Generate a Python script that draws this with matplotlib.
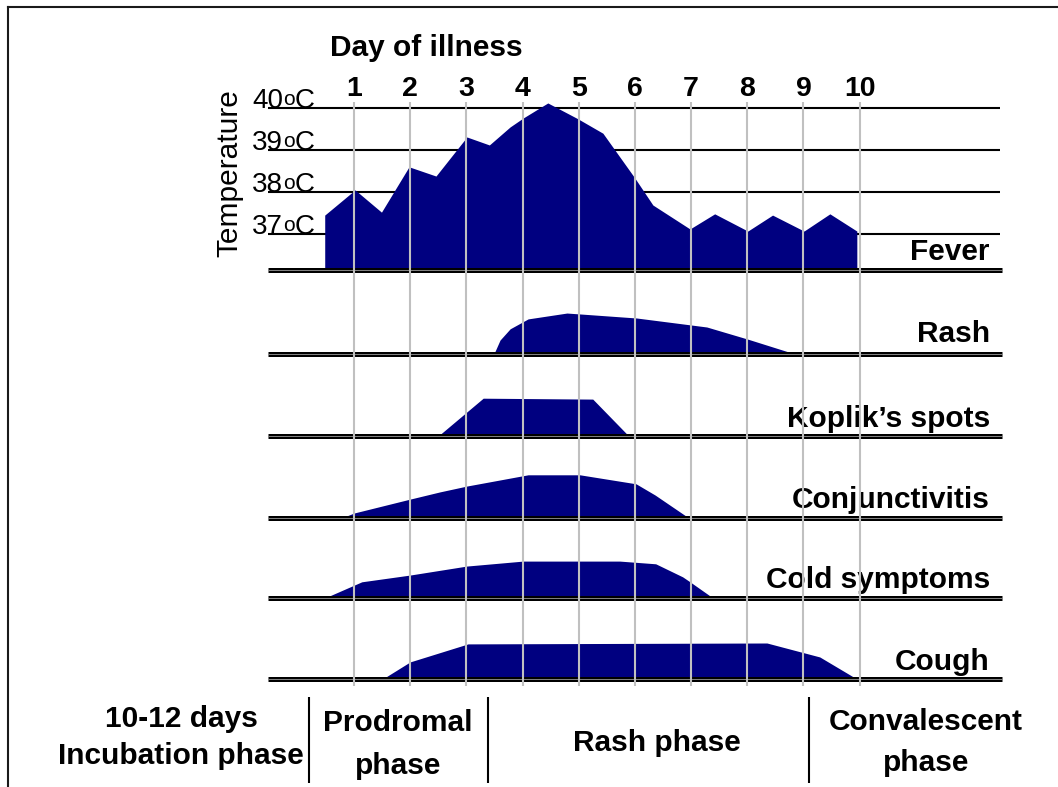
import matplotlib
matplotlib.use("Agg")
import matplotlib.pyplot as plt

plt.rcParams['font.family'] = ['Liberation Sans', 'DejaVu Sans']

# ---------------- data ----------------
days = [1, 2, 3, 4, 5, 6, 7, 8, 9, 10]
temp_levels = [37, 38, 39, 40]
temp_numbers = ["37", "38", "39", "40"]

fever_days = [0.48, 1.02, 1.49, 1.98, 2.46, 3.01, 3.41, 3.78, 4.01, 4.45, 4.99, 5.43,
              6.00, 6.32, 6.98, 7.42, 8.01, 8.45, 9.01, 9.47, 9.95]
fever_temp = [37.45, 38.05, 37.52, 38.60, 38.38, 39.31, 39.12, 39.55, 39.76, 40.12, 39.74, 39.40,
              38.33, 37.69, 37.12, 37.48, 37.07, 37.45, 37.07, 37.48, 37.07]

rash_days = [3.49, 3.60, 3.78, 4.10, 4.79, 5.02, 6.03, 7.28, 8.01, 8.85]
rash_vals = [0.00, 0.31, 0.56, 0.78, 0.91, 0.89, 0.80, 0.60, 0.33, 0.00]

koplik_days = [2.50, 3.30, 5.25, 5.89]
koplik_vals = [0.00, 0.84, 0.82, 0.00]

conj_days = [0.78, 1.00, 2.00, 2.53, 3.01, 4.10, 5.02, 6.02, 6.36, 6.96]
conj_vals = [0.00, 0.11, 0.42, 0.58, 0.71, 0.96, 0.96, 0.76, 0.51, 0.00]

cold_days = [0.48, 1.14, 2.00, 3.01, 4.01, 5.73, 6.37, 6.85, 6.98, 7.39]
cold_vals = [0.00, 0.36, 0.51, 0.71, 0.82, 0.82, 0.76, 0.47, 0.36, 0.00]

cough_days = [1.51, 2.00, 3.03, 8.35, 9.29, 9.95]
cough_vals = [0.00, 0.38, 0.78, 0.80, 0.49, 0.00]

symptom_names = ["Rash", "Koplik\u2019s spots", "Conjunctivitis", "Cold symptoms", "Cough"]
symptom_days = [rash_days, koplik_days, conj_days, cold_days, cough_days]
symptom_vals = [rash_vals, koplik_vals, conj_vals, cold_vals, cough_vals]

phase_bounds = [0.20, 3.38, 9.10]
phase_labels = [["10-12 days", "Incubation phase"], ["Prodromal", "phase"],
                ["Rash phase"], ["Convalescent", "phase"]]

# ---------------- layout ----------------
W, H = 1058, 787
X0, SC = 297.75, 56.19
NAVY = "#000080"
GRAY = "#c0c0c0"
BOLD_FS = 21.5


def dx(px):
    return (px - X0) / SC


XL = (dx(0), dx(W))

fig = plt.figure(figsize=(W / 100, H / 100), dpi=100)
fig.patch.set_facecolor("white")


def temp_of(py):
    return 37 + (234 - py) / 42.0


# fever panel (y in degrees C)
fb, ft = 270, 95
axf = fig.add_axes([0, 1 - fb / H, 1, (fb - ft) / H], zorder=2)
axf.set_xlim(*XL)
axf.set_ylim(temp_of(fb), temp_of(ft))
axf.axis("off")
axf.patch.set_alpha(0)
axf.hlines(temp_levels, dx(268), dx(1000), color="black", lw=1.5, zorder=1)
axf.fill_between(fever_days, fever_temp, temp_of(fb), color=NAVY, lw=0, zorder=2)

# symptom panels (relative intensity, 1 = 45 px)
baselines = [354, 436, 518, 598, 679]
for b, dd, vv in zip(baselines, symptom_days, symptom_vals):
    ax = fig.add_axes([0, 1 - b / H, 1, 50 / H], zorder=2)
    ax.set_xlim(*XL)
    ax.set_ylim(0, 50 / 45)
    ax.axis("off")
    ax.patch.set_alpha(0)
    ax.fill_between(dd, vv, 0, color=NAVY, lw=0)

# overlay (x in days, y in pixels)
axt = fig.add_axes([0, 0, 1, 1], zorder=5)
axt.set_xlim(*XL)
axt.set_ylim(H, 0)
axt.axis("off")
axt.patch.set_alpha(0)

# baselines (double lines)
for b in [270] + baselines:
    axt.plot([dx(268), dx(1002)], [b, b], color="black", lw=3.6, solid_capstyle="butt", zorder=3)
    axt.plot([dx(268), dx(1002)], [b, b], color="#9a9a9a", lw=0.6, solid_capstyle="butt", zorder=4)

# day grid lines
axt.vlines(days, 102, 686, color=GRAY, lw=1.5, zorder=6)

# day numbers
for d in days:
    axt.text(d, 96, str(d), ha="center", va="baseline", fontsize=20.5, fontweight="bold")
axt.text(dx(426), 56, "Day of illness", ha="center", va="baseline", fontsize=BOLD_FS, fontweight="bold")

# temperature labels (number, raised small "o", "C")
for t, num in zip(temp_levels, temp_numbers):
    py = 234 - (t - 37) * 42
    axt.text(dx(252), py, num, ha="left", va="baseline", fontsize=20)
    axt.text(dx(283), py - 3, "o", ha="left", va="baseline", fontsize=15)
    axt.text(dx(294.5), py, "C", ha="left", va="baseline", fontsize=20)
axt.text(dx(229), 173, "Temperature", rotation=90, ha="center", va="center", fontsize=21.5)

# row labels
row_label_y = [260, 342, 427, 508, 588, 670]
for name, y in zip(["Fever"] + symptom_names, row_label_y):
    axt.text(dx(990), y, name, ha="right", va="baseline", fontsize=BOLD_FS, fontweight="bold")

# phase dividers
axt.vlines(phase_bounds, 697, 783, color="black", lw=1.5)

# phase labels
phase_pos = [(181, [727, 764]), (398, [731, 774]), (657, [751]), (926, [730, 771])]
for (cx, ys), labs in zip(phase_pos, phase_labels):
    for y, lab in zip(ys, labs):
        axt.text(dx(cx), y, lab, ha="center", va="baseline", fontsize=BOLD_FS, fontweight="bold")

# outer frame (top and left)
axt.plot([dx(8), dx(W)], [7, 7], color="#1a1a1a", lw=1.5, clip_on=False)
axt.plot([dx(8), dx(8)], [7, H], color="#1a1a1a", lw=1.5, clip_on=False)

fig.savefig("out.png", dpi=100, facecolor="white")
